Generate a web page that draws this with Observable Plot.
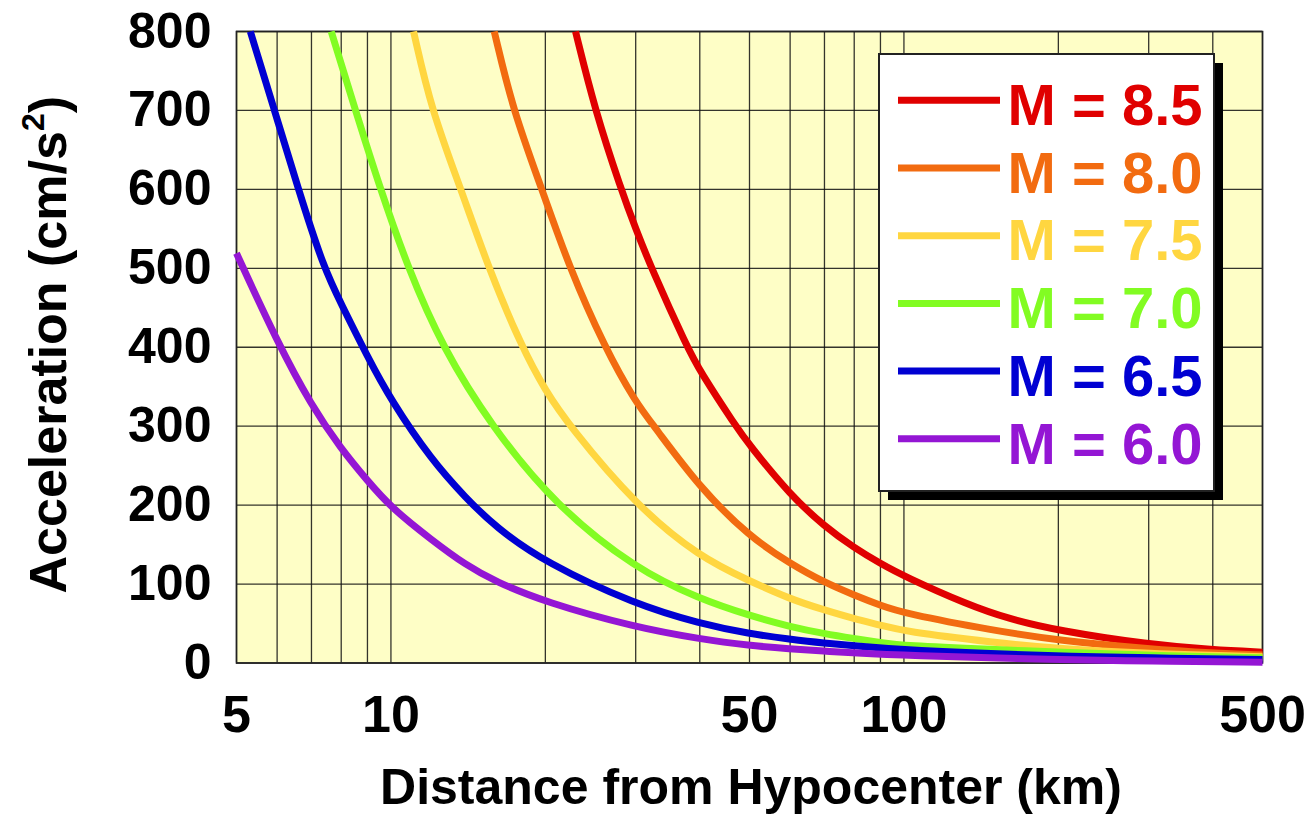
<!DOCTYPE html>
<html><head><meta charset="utf-8">
<script src="https://cdn.jsdelivr.net/npm/d3@7"></script>
<script src="https://cdn.jsdelivr.net/npm/@observablehq/plot@0.6"></script>
<style>
html,body{margin:0;padding:0;background:#fff;}
svg{display:block;}
</style>
</head><body><div id="chart"></div>
<script>
// ---- data ----
const magnitudes = ["M = 8.5", "M = 8.0", "M = 7.5", "M = 7.0", "M = 6.5", "M = 6.0"];
const colors = ["#e00000", "#f26b10", "#ffd640", "#82fc22", "#0000d2", "#9416d4"];

const dist85 = [22.9, 25.0, 28.1, 30, 32.2, 37.8, 40, 47, 50, 60, 70, 80, 90, 100, 133, 160, 200, 300, 400, 500];
const acc85  = [800, 700, 600, 550, 500, 400, 370, 300, 276, 213, 173, 146, 126, 110, 74, 56, 41, 23.5, 16.7, 13.7];

const dist80 = [15.9, 17.3, 19.7, 22.3, 26.1, 30, 32.6, 40, 50, 60, 70, 80, 90, 100, 150, 200, 300, 400, 500];
const acc80  = [800, 700, 600, 500, 400, 330, 300, 222, 160, 126, 102, 86, 73, 63, 41, 28.5, 18, 12.5, 10];

const dist75 = [11.07, 12.0, 13.7, 15.5, 18.0, 20, 22.3, 30, 40, 50, 60, 70, 80, 90, 100, 150, 200, 300, 400, 500];
const acc75  = [800, 700, 600, 500, 400, 345, 300, 200, 134, 104, 81, 67, 56, 48, 40, 26, 18, 12, 9.5, 8];

const dist70 = [7.65, 8.53, 9.54, 10.8, 12.6, 15.7, 20.9, 30, 40, 50, 60, 70, 80, 90, 100, 150, 200, 300, 500];
const acc70  = [800, 700, 600, 500, 400, 300, 200, 119, 81, 60, 46, 37, 31, 26, 22, 17, 13.7, 9.5, 6.6];

const dist65 = [5.32, 5.93, 6.6, 7.4, 8, 9, 10, 12, 14, 16, 20, 30, 40, 50, 60, 70, 80, 100, 200, 300, 500];
const acc65  = [800, 700, 600, 500, 455, 388, 333, 257, 209, 172, 127, 74, 50, 37, 30, 25, 22, 16, 8.6, 6.5, 4.5];

const dist60 = [5, 6, 7, 8, 9, 10, 12, 14, 16, 20, 30, 40, 50, 60, 70, 80, 100, 200, 300, 500];
const acc60  = [519, 407, 326, 271, 231, 197, 156, 124, 103, 77, 45, 30.5, 22, 18, 15, 12.7, 9.5, 4, 2.5, 1];

const xGrid = [5, 6, 7, 8, 9, 10, 20, 30, 40, 50, 60, 70, 80, 90, 100, 200, 300, 400, 500];
const yGrid = [0, 100, 200, 300, 400, 500, 600, 700, 800];
const xTickLabels = [5, 10, 50, 100, 500];
const yTickLabels = [0, 100, 200, 300, 400, 500, 600, 700, 800];
const xTitle = "Distance from Hypocenter (km)";
const yTitle = "Acceleration (cm/s";

// ---- build table ----
const seriesDist = [dist85, dist80, dist75, dist70, dist65, dist60];
const seriesAcc = [acc85, acc80, acc75, acc70, acc65, acc60];
const rows = seriesDist.flatMap((ds, i) => ds.map((d, j) => ({m: magnitudes[i], d, a: seriesAcc[i][j]})));

const FONT = "'Liberation Sans', Arial, Helvetica, sans-serif";

const plot = Plot.plot({
  width: 1312,
  height: 815,
  marginLeft: 236,
  marginRight: 50,
  marginTop: 31,
  marginBottom: 152.5,
  style: {fontFamily: FONT, fontWeight: "bold", background: "#fff", overflow: "visible"},
  x: {type: "log", domain: [5, 500]},
  y: {domain: [0, 800]},
  color: {domain: magnitudes, range: colors},
  marks: [
    Plot.frame({fill: "#fefec6", stroke: null}),
    Plot.ruleX(xGrid, {stroke: "#111", strokeWidth: 1.3, strokeOpacity: 0.85}),
    Plot.ruleY(yGrid, {stroke: "#111", strokeWidth: 1.3, strokeOpacity: 0.85}),
    Plot.frame({stroke: "#222", strokeWidth: 1.6}),
    Plot.axisY({ticks: yTickLabels, tickSize: 0, tickPadding: 25, fontSize: 50, fontWeight: "bold", label: null, fill: "#000", tickFormat: d => String(d)}),
    Plot.axisX({ticks: xTickLabels, tickSize: 0, tickPadding: 32, fontSize: 52, fontWeight: "bold", label: null, fill: "#000", tickFormat: d => String(d)}),
    Plot.line(rows, {x: "d", y: "a", z: "m", stroke: "m", strokeWidth: 7, curve: "basis", strokeLinecap: "butt", strokeLinejoin: "round"})
  ]
});

document.getElementById("chart").appendChild(plot);

const svg = d3.select(plot);

// axis titles
svg.append("text")
  .attr("x", (236 + 1262) / 2 + 2)
  .attr("y", 804)
  .attr("text-anchor", "middle")
  .attr("font-family", FONT)
  .attr("font-weight", "bold")
  .attr("font-size", 50)
  .attr("fill", "#000")
  .text(xTitle);

const yt = svg.append("text")
  .attr("transform", `translate(66, ${(31 + 662.5) / 2 - 2}) rotate(-90)`)
  .attr("text-anchor", "middle")
  .attr("font-family", FONT)
  .attr("font-weight", "bold")
  .attr("font-size", 52)
  .attr("fill", "#000");
yt.append("tspan").text(yTitle);
yt.append("tspan").attr("font-size", 32).attr("dy", -22).text("2");
yt.append("tspan").attr("dy", 22).text(")");

// legend
const lg = svg.append("g").attr("text-anchor", "start");
const bx = 879, by = 54, bw = 335, bh = 437;
lg.append("rect").attr("x", bx + 9).attr("y", by + 9).attr("width", bw).attr("height", bh).attr("fill", "#000");
lg.append("rect").attr("x", bx).attr("y", by).attr("width", bw).attr("height", bh).attr("fill", "#fff").attr("stroke", "#222").attr("stroke-width", 2);
magnitudes.forEach((m, i) => {
  const base = 125 + i * 67.7;
  lg.append("line").attr("x1", 898).attr("x2", 1000).attr("y1", base - 24.7).attr("y2", base - 24.7)
    .attr("stroke", colors[i]).attr("stroke-width", 7);
  lg.append("text").attr("x", 1007.5).attr("y", base)
    .attr("text-anchor", "start")
    .attr("font-family", FONT).attr("font-weight", "bold").attr("font-size", 58)
    .attr("fill", colors[i]).style("white-space", "pre").text(m);
});
</script>
</body></html>
